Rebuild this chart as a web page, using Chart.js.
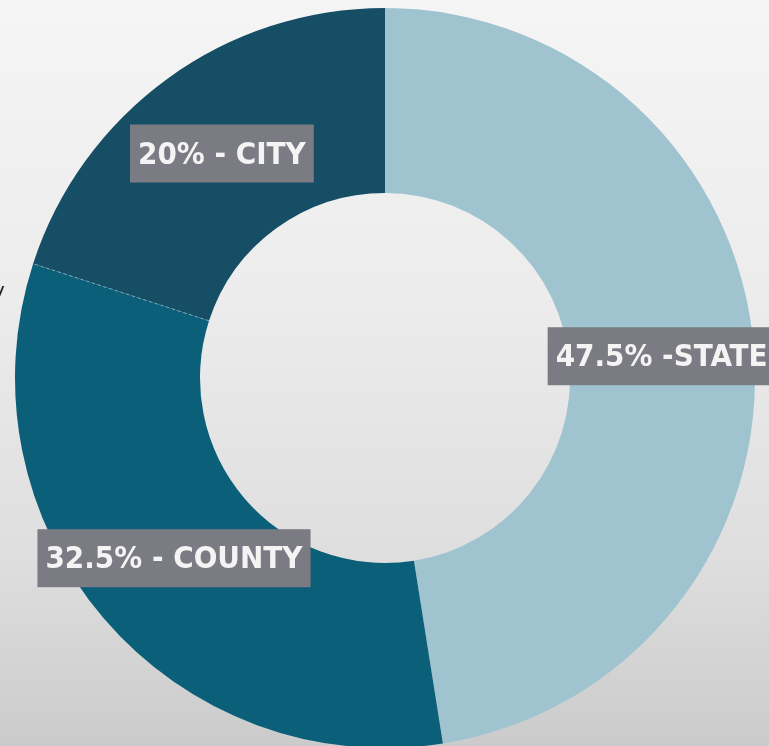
<!DOCTYPE html>
<html>
<head>
<meta charset="utf-8">
<script src="https://cdn.jsdelivr.net/npm/chart.js@4/dist/chart.umd.min.js"></script>
<style>
  html, body { margin: 0; padding: 0; width: 769px; height: 746px; overflow: hidden; }
  body { background: linear-gradient(to bottom, #f5f5f5 0%, #ececec 40%, #dedede 75%, #cbcbcb 100%); position: relative; }
  #wrap { position: absolute; left: 0; top: 0; width: 769px; height: 760px; }
  #stray { position: absolute; left: -7px; top: 278px; font: 20px "DejaVu Sans", sans-serif; color: #222; }
</style>
</head>
<body>
<div id="wrap"><canvas id="chartDonut"></canvas></div>
<span id="stray">y</span>
<script>
var categories = ["STATE", "COUNTY", "CITY"];
var shares = [47.5, 32.5, 20];
var sliceLabels = ["47.5% -STATE", "32.5% - COUNTY", "20% - CITY"];
var sliceColors = ["#9fc4cf", "#0b5f79", "#164e66"];

var ourDonut = document.getElementById("chartDonut");

// boxed labels drawn at the middle of each slice, plus the faint dashed seam
var boxLabels = {
    id: "boxLabels",
    afterDatasetsDraw: function (chart) {
        var ctx = chart.ctx;
        var meta = chart.getDatasetMeta(0);
        ctx.save();

        var seam = meta.data[2];
        ctx.strokeStyle = "rgba(150, 200, 215, 0.7)";
        ctx.lineWidth = 1;
        ctx.setLineDash([3, 3]);
        ctx.beginPath();
        ctx.moveTo(seam.x + Math.cos(seam.startAngle) * seam.innerRadius, seam.y + Math.sin(seam.startAngle) * seam.innerRadius);
        ctx.lineTo(seam.x + Math.cos(seam.startAngle) * seam.outerRadius, seam.y + Math.sin(seam.startAngle) * seam.outerRadius);
        ctx.stroke();
        ctx.setLineDash([]);

        ctx.font = "bold 31px 'DejaVu Sans Condensed', 'DejaVu Sans', sans-serif";
        ctx.textBaseline = "middle";
        ctx.textAlign = "center";
        meta.data.forEach(function (arc, i) {
            var p = arc.tooltipPosition();
            var text = sliceLabels[i];
            var w = ctx.measureText(text).width + 16;
            var h = 58;
            ctx.fillStyle = "#7b7b83";
            ctx.fillRect(p.x - w / 2, p.y - h / 2, w, h);
            ctx.fillStyle = "#f4f4f4";
            ctx.fillText(text, p.x, p.y + 2);
        });
        ctx.restore();
    }
};

var donutChart = new Chart(ourDonut, {
    type: 'doughnut',
    data: {
        labels: categories,
        datasets: [
            {
                data: shares,
                backgroundColor: sliceColors,
                borderWidth: 0
            }
        ]
    },
    options: {
        responsive: true,
        maintainAspectRatio: false,
        animation: false,
        cutout: '50%',
        layout: {
            padding: { left: 15, right: 14, top: 8, bottom: 12 }
        },
        plugins: {
            legend: { display: false },
            tooltip: { enabled: false }
        }
    },
    plugins: [boxLabels]
});
</script>
</body>
</html>
